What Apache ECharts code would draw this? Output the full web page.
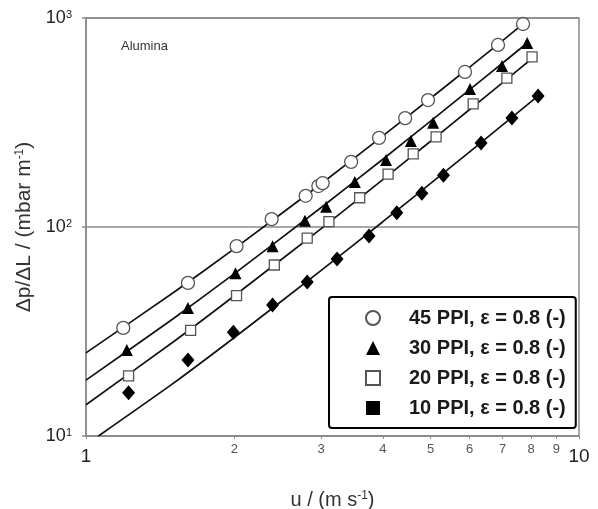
<!DOCTYPE html>
<html>
<head>
<meta charset="utf-8">
<script src="https://cdn.jsdelivr.net/npm/echarts@6/dist/echarts.min.js"></script>
<style>
  html, body { margin: 0; padding: 0; background: #fff; }
  #chart { width: 598px; height: 509px; }
</style>
</head>
<body>
<div id="chart"></div>
<script>
// Measured pressure gradient (mbar/m) against superficial velocity (m/s), alumina foams
const u45 = [1.19, 1.61, 2.02, 2.38, 2.79, 2.96, 3.02, 3.45, 3.93, 4.44, 4.94, 5.87, 6.85, 7.70];
const p45 = [32.9, 54, 81, 109, 141, 157, 162, 205, 267, 332, 405, 552, 743, 936];

const u30 = [1.21, 1.61, 2.01, 2.39, 2.78, 3.07, 3.51, 4.06, 4.56, 5.06, 6.01, 6.98, 7.85];
const p30 = [25.8, 41, 60, 81, 107, 125, 164, 209, 258, 315, 458, 590, 759];

const u20 = [1.22, 1.63, 2.02, 2.41, 2.81, 3.11, 3.59, 4.10, 4.61, 5.13, 6.10, 7.14, 8.03];
const p20 = [19.4, 32, 47, 65.8, 88.5, 106, 138, 179, 224, 270, 388, 516, 651];

const u10 = [1.22, 1.61, 1.99, 2.39, 2.81, 3.23, 3.75, 4.27, 4.80, 5.31, 6.33, 7.31, 8.26];
const p10 = [16.1, 23.1, 31.4, 42.4, 54.6, 70.3, 90.6, 117, 145, 177, 252, 332, 424];

// Fitted curves, sampled along u
const c45u = [1, 1.5, 2, 3, 4, 5, 6, 7, 7.70];
const c45p = [25, 48.3, 78.8, 161, 273, 413, 582, 780, 936];
const c30u = [1, 1.5, 2, 3, 4, 5, 6, 7, 7.85];
const c30p = [18.5, 36.3, 59.8, 124, 211, 321, 454, 609, 759];
const c20u = [1, 1.5, 2, 3, 4, 5, 6, 7, 8.03];
const c20p = [14.1, 28.1, 46.9, 98.3, 168.5, 257.3, 364.8, 491, 640];
const c10u = [1.06, 1.5, 2, 3, 4, 5, 6, 7, 8.26];
const c10p = [10, 17.8, 29.6, 62, 106, 161.7, 229, 308, 424];

const seriesNames = ['45 PPI, ε = 0.8 (-)', '30 PPI, ε = 0.8 (-)', '20 PPI, ε = 0.8 (-)', '10 PPI, ε = 0.8 (-)'];
const xTicks = [1, 2, 3, 4, 5, 6, 7, 8, 9, 10];
const yTicks = [10, 100, 1000];
const supDigits = { 1: '1', 2: '2', 3: '3' };

const zip = (xs, ys) => xs.map((x, i) => [x, ys[i]]);

const AXIS_GRAY = '#8a8a8a';
const FONT = 'Liberation Sans, Arial, sans-serif';

function fitLine(xs, ys) {
  return {
    type: 'line',
    data: zip(xs, ys),
    showSymbol: false,
    smooth: 0.2,
    silent: true,
    lineStyle: { color: '#111', width: 1.7 },
    z: 1
  };
}

const option = {
  animation: false,
  backgroundColor: '#fff',
  title: {
    text: 'Alumina',
    left: 121, top: 40, padding: 0,
    textStyle: { fontFamily: FONT, fontSize: 13, fontWeight: 'normal', color: '#333' }
  },
  grid: {
    left: 86, top: 18, right: 19, bottom: 73,
    outerBoundsMode: 'none',
    show: true, borderColor: AXIS_GRAY, borderWidth: 1.5, backgroundColor: 'transparent'
  },
  legend: {
    orient: 'vertical',
    left: 329, top: 297,
    padding: [11, 10, 10, 36],
    itemGap: 10,
    itemWidth: 14, itemHeight: 14,
    borderColor: '#000', borderWidth: 2, borderRadius: 3,
    backgroundColor: '#fff',
    textStyle: {
      fontFamily: FONT, fontSize: 20, fontWeight: 'bold', color: '#1a1a1a',
      lineHeight: 20, padding: [0, 0, 0, 24]
    },
    data: [
      { name: seriesNames[0], icon: 'circle' },
      { name: seriesNames[1], icon: 'triangle' },
      { name: seriesNames[2], icon: 'rect' },
      { name: seriesNames[3], icon: 'rect', itemStyle: { color: '#000', borderColor: '#000' } }
    ]
  },
  xAxis: {
    type: 'log', logBase: 10, min: 1, max: 10,
    name: 'u / (m s{sup|-1})',
    nameLocation: 'middle', nameGap: 54,
    nameTextStyle: {
      fontFamily: FONT, fontSize: 20, color: '#333',
      rich: { sup: { fontSize: 12, verticalAlign: 'top', color: '#333', fontFamily: FONT } }
    },
    axisLine: { show: true, lineStyle: { color: AXIS_GRAY, width: 1.5 } },
    axisTick: { show: true, length: 3, customValues: xTicks, lineStyle: { color: AXIS_GRAY } },
    splitLine: { show: false },
    minorTick: { show: false },
    axisLabel: {
      customValues: xTicks,
      margin: 7,
      formatter: function (v) {
        const r = Math.round(v);
        return (r === 1 || r === 10) ? '{big|' + r + '}' : '{small|' + r + '}';
      },
      rich: {
        big: { fontFamily: FONT, fontSize: 19, color: '#222', padding: [4, 0, 0, 0] },
        small: { fontFamily: FONT, fontSize: 13, color: '#555' }
      }
    }
  },
  yAxis: {
    type: 'log', logBase: 10, min: 10, max: 1000,
    name: 'Δp/ΔL / (mbar m{sup|-1})',
    nameLocation: 'middle', nameGap: 47, nameRotate: 90,
    nameTextStyle: {
      fontFamily: FONT, fontSize: 21, color: '#333',
      rich: { sup: { fontSize: 12, verticalAlign: 'top', color: '#333', fontFamily: FONT } }
    },
    axisLine: { show: true, lineStyle: { color: AXIS_GRAY, width: 1.5 } },
    axisTick: { show: true, length: 4, lineStyle: { color: AXIS_GRAY, width: 1.5 } },
    splitLine: { show: true, lineStyle: { color: AXIS_GRAY, width: 1.5 } },
    minorTick: { show: false },
    axisLabel: {
      margin: 14,
      formatter: function (v) {
        const e = Math.round(Math.log10(v));
        return '{b|10}{s|' + supDigits[e] + '}';
      },
      rich: {
        b: { fontFamily: FONT, fontSize: 18, color: '#222' },
        s: { fontFamily: FONT, fontSize: 11, color: '#222', verticalAlign: 'top' }
      }
    }
  },
  series: [
    fitLine(c45u, c45p),
    fitLine(c30u, c30p),
    fitLine(c20u, c20p),
    fitLine(c10u, c10p),
    {
      name: seriesNames[0], type: 'scatter', data: zip(u45, p45),
      symbol: 'circle', symbolSize: 13, z: 3,
      itemStyle: { color: '#fff', borderColor: '#555', borderWidth: 1.3, opacity: 1 }
    },
    {
      name: seriesNames[1], type: 'scatter', data: zip(u30, p30),
      symbol: 'triangle', symbolSize: 12, z: 3,
      itemStyle: { color: '#000', opacity: 1 }
    },
    {
      name: seriesNames[2], type: 'scatter', data: zip(u20, p20),
      symbol: 'rect', symbolSize: 10, z: 3,
      itemStyle: { color: '#fff', borderColor: '#555', borderWidth: 1.3, opacity: 1 }
    },
    {
      name: seriesNames[3], type: 'scatter', data: zip(u10, p10),
      symbol: 'diamond', symbolSize: [13, 15], z: 3,
      itemStyle: { color: '#000', opacity: 1 }
    }
  ]
};

const chart = echarts.init(document.getElementById('chart'), null, { renderer: 'canvas' });
chart.setOption(option);
</script>
</body>
</html>
